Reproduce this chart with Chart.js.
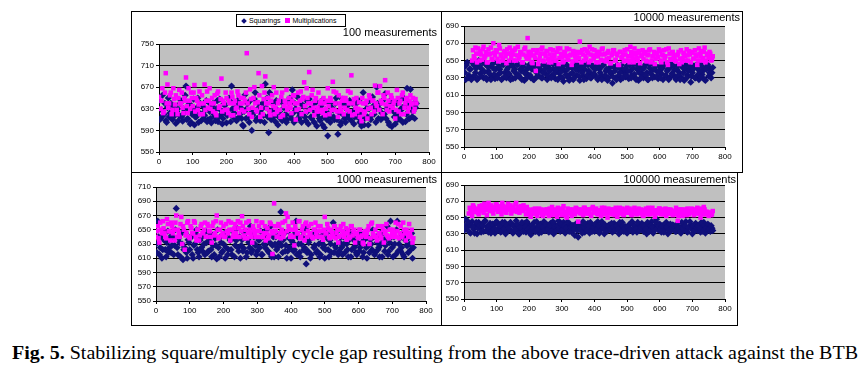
<!DOCTYPE html>
<html><head><meta charset="utf-8">
<script src="https://cdn.jsdelivr.net/npm/chart.js@4"></script>
<style>
html,body{margin:0;padding:0;background:#fff;width:868px;height:374px;overflow:hidden;position:relative;font-family:"Liberation Sans",Arial,sans-serif}
canvas{position:absolute}
.box{position:absolute;border:1px solid #000;box-sizing:border-box}
.ttl{position:absolute;font-size:11px;color:#000;text-align:right;white-space:nowrap}
#legend{position:absolute;left:236px;top:14px;width:110px;height:13px;border:1px solid #000;box-sizing:border-box;background:#fff;font-size:7px;line-height:11px;white-space:nowrap;padding-left:3px}
.dia{display:inline-block;width:4px;height:4px;background:#10107a;transform:rotate(45deg);margin:0 3px 0 2px;vertical-align:0px}
.sq{display:inline-block;width:5px;height:5px;background:#ff00ff;margin:0 3px 0 4px;vertical-align:0px}
#cap{position:absolute;left:12px;top:343px;font-family:"Liberation Serif","Times New Roman",serif;font-size:18px;white-space:nowrap;transform-origin:0 0;color:#000}
</style></head>
<body>
<div class="box" style="left:131px;top:11px;width:311px;height:162px"></div>
<div class="box" style="left:441px;top:11px;width:302px;height:162px"></div>
<div class="box" style="left:131px;top:172px;width:311px;height:154px"></div>
<div class="box" style="left:441px;top:172px;width:297px;height:154px"></div>
<canvas id="c1" width="310" height="161" style="left:131px;top:11px"></canvas>
<canvas id="c2" width="301" height="161" style="left:441px;top:11px"></canvas>
<canvas id="c3" width="310" height="153" style="left:131px;top:172px"></canvas>
<canvas id="c4" width="296" height="153" style="left:441px;top:172px"></canvas>
<div id="legend"><span class="dia"></span>Squarings<span class="sq"></span>Multiplications</div>
<div class="ttl" style="right:431px;top:26px">100 measurements</div>
<div class="ttl" style="right:128px;top:11px">10000 measurements</div>
<div class="ttl" style="right:431px;top:173px">1000 measurements</div>
<div class="ttl" style="right:132px;top:173px">100000 measurements</div>
<div id="cap"><b>Fig. 5.</b> Stabilizing square/multiply cycle gap resulting from the above trace-driven attack against the BTB</div>
<script>
// readings sampled every 5 measurements (A at 0,5,10..., B at 2.5,7.5,...)
const STEP = 5;
const seriesNames = ["Squarings", "Multiplications"];

const sq100 = [645,612,655,620,608,632,615,640,610,625,603,630,618,645,607,622,672,612,640,605,
628,600,615,650,622,608,635,618,645,610,625,604,640,616,630,606,648,620,612,636,
604,626,645,672,615,632,608,640,620,612,598,656,630,615,645,590,622,660,612,640,
608,630,618,676,650,586,625,612,640,606,628,615,645,608,632,620,610,642,618,665,
605,630,652,612,640,620,635,608,625,648,615,630,605,642,620,612,635,600,595,625,
580,640,615,628,610,650,583,622,605,640,612,630,618,645,608,625,615,640,620,605,
598,660,612,630,600,645,618,635,628,670,612,640,622,615,658,630,605,645,597,625,
602,640,618,610,632,650,606,668,612,666,615,640,632];
const sq100b = [610,628,618,640,605,650,622,612,635,618,625,608,640,615,630,655,610,628,602,620,
648,615,632,605,640,620,612,628,606,642,612,635,620,608,645,615,628,602,640,622,
618,650,606,630,622,610,645,615,632,600,625,612,640,605,628,618,648,608,630,615,
622,640,605,632,615,660,610,628,618,645,600,625,612,640,618,605,630,650,612,622,
640,610,625,618,605,635,615,645,602,630,612,640,622,598,630,608,645,615,628,610,
620,605,632,615,640,610,625,600,648,618,605,635,612,622,640,602,630,615,645,610,
622,600,640,615,630,610,652,620,605,640,630,610,645,620,612,635,600,628,640,615,
622,610,645,628,605,635,620,640,612,630,625,612,640];
const mu100 = [652,630,668,625,696,675,640,660,628,648,655,620,665,640,632,650,688,622,645,660,
635,674,650,628,662,640,620,675,645,632,668,640,625,655,618,662,635,686,645,628,
650,622,640,660,618,645,632,655,640,628,650,645,733,630,666,615,650,640,625,696,
615,672,648,690,630,640,618,655,670,632,625,645,615,660,635,640,628,650,632,645,
655,610,640,630,662,648,679,625,650,698,640,665,618,650,632,625,645,622,640,630,
668,620,645,680,628,660,615,640,625,650,632,645,663,625,692,640,620,650,630,615,
607,640,625,645,630,650,620,645,673,635,660,672,640,655,683,628,645,635,650,640,
612,665,625,645,655,620,640,650,632,655,640,625,648];
const mu100b = [630,645,622,660,640,632,655,620,668,638,628,650,640,660,622,645,635,668,630,650,
660,625,645,638,620,655,640,628,662,645,630,650,640,622,658,632,648,625,640,660,
628,645,618,652,640,630,662,622,650,640,625,660,640,620,648,632,670,628,642,655,
632,620,660,640,650,625,645,635,620,660,640,628,652,618,645,665,632,640,622,655,
640,628,660,645,620,652,635,668,640,628,655,632,645,625,660,640,628,650,618,645,
635,650,628,662,640,625,655,632,645,620,650,628,640,660,618,648,632,625,642,628,
650,620,640,612,655,632,645,625,640,660,628,645,620,650,638,660,625,655,632,645,
628,650,640,620,660,632,648,625,645,638,650,630,640];

const sq10000 = [642,628,648,633,640,630,645,636,628,650,635,640,630,646,628,638,644,632,641,629,
648,634,640,628,645,636,630,642,633,647,629,640,635,646,631,638,643,627,639,634,
645,630,641,628,637,644,632,639,630,646,635,628,642,648,633,640,629,645,636,631,
641,626,638,645,630,634,642,628,646,633,639,627,644,632,640,629,645,636,630,642,
634,646,628,640,633,644,630,638,627,641,635,624,642,630,645,633,628,640,636,631,
644,629,638,633,646,630,640,627,642,635,630,645,636,628,641,634,646,631,638,629,
643,635,628,645,632,640,630,646,634,639,628,644,636,631,642,627,645,633,640,625,
636,644,630,641,628,646,634,639,627,643,632,640,636];
const sq10000b = [636,645,630,640,628,647,633,641,629,644,632,648,637,630,643,635,628,646,634,640,
630,643,636,629,647,632,640,635,628,644,638,630,645,633,640,628,646,635,630,642,
633,640,628,645,631,638,643,630,636,640,644,632,638,630,646,635,640,628,643,637,
630,645,634,640,627,643,636,630,640,645,632,641,636,628,646,633,638,630,644,635,
640,630,643,636,628,645,633,640,630,637,644,631,638,628,642,636,645,630,640,633,
638,645,630,641,634,628,644,636,630,640,642,633,628,645,637,630,640,644,632,638,
630,641,645,633,638,628,642,635,644,630,640,633,628,645,636,641,630,638,643,632,
640,630,645,634,638,631,642,628,640,645,636,630,642];
const mu10000 = [null,null,null,null,null,650,655,665,648,658,661,651,666,655,648,663,658,652,670,656,
660,649,664,655,652,661,647,658,665,653,657,662,650,666,654,659,648,663,655,676,
652,660,647,656,638,662,651,658,665,649,655,661,648,663,653,657,650,660,646,664,
654,649,659,664,651,656,645,661,655,650,660,672,648,657,663,652,659,666,650,656,
662,648,655,660,651,664,657,649,659,653,647,658,662,651,656,645,660,654,649,657,
663,650,666,655,648,659,653,661,647,656,652,660,649,657,663,650,655,646,659,654,
661,648,656,652,663,645,658,651,660,654,649,657,646,662,653,658,650,656,661,648,
659,652,657,645,664,655,650,660,648,656,653,658,651];
const mu10000b = [null,null,null,null,null,662,652,658,664,650,657,663,653,660,648,657,665,651,659,662,
652,668,657,650,660,655,663,650,658,661,650,664,656,652,660,648,657,665,652,660,
656,648,662,653,659,646,655,663,650,658,661,652,657,648,662,655,650,664,653,658,
648,660,655,651,663,657,649,660,652,658,653,659,662,650,655,661,648,657,663,652,
655,660,648,657,663,650,658,652,661,647,656,662,650,658,645,660,653,657,662,650,
655,648,660,652,664,657,650,659,655,662,658,650,656,662,648,655,660,652,657,663,
650,657,662,655,648,664,652,659,656,650,656,660,652,648,659,655,663,650,657,660,
652,662,655,650,658,661,653,665,650,658,660,650,655];

const sq1000 = [630,662,615,640,622,635,612,648,625,618,640,628,680,615,632,645,608,625,618,636,
622,640,610,630,650,618,635,625,642,615,632,620,645,612,628,638,609,625,640,618,
630,610,645,622,635,615,640,628,652,620,610,636,624,645,618,632,655,622,640,628,
620,635,648,615,630,624,642,618,655,628,612,640,625,632,675,618,645,628,620,638,
610,632,622,662,640,618,630,648,625,602,620,636,615,645,628,618,640,612,632,625,
610,645,622,635,618,660,628,640,615,632,625,640,618,630,612,645,622,636,628,615,
640,625,632,618,645,610,628,636,622,640,618,632,625,645,612,635,628,655,620,662,
625,640,615,662,630,620,645,612,635,628,640,622,610];
const sq1000b = [618,640,625,610,648,622,632,618,640,628,615,650,625,638,612,630,622,645,610,632,
640,615,628,645,622,612,638,620,630,648,618,635,622,642,615,628,650,612,632,620,
645,625,615,638,622,648,612,635,625,640,628,620,645,612,636,625,618,642,630,615,
638,625,615,640,628,650,620,632,612,640,630,622,612,645,628,636,620,610,648,625,
635,620,645,615,630,612,640,622,652,618,632,610,640,625,645,620,630,615,642,628,
622,638,612,630,645,618,625,648,620,640,615,630,645,622,636,612,640,625,618,632,
620,645,612,636,625,640,618,630,650,615,640,622,612,630,645,620,638,615,632,640,
612,630,650,620,638,625,615,640,628,618,630,645,625];
const mu1000 = [640,655,632,650,662,645,638,658,648,660,645,635,670,650,640,668,655,622,646,662,
638,652,645,660,635,650,642,658,646,660,640,655,648,632,660,645,670,638,650,642,
655,640,648,662,635,650,645,658,640,652,660,669,642,650,638,662,645,632,650,640,
648,655,640,660,645,635,652,642,658,616,687,648,640,655,638,660,645,673,668,650,
642,660,628,650,645,662,640,655,635,660,648,642,658,638,650,645,655,640,648,636,
668,645,652,638,648,640,655,645,632,650,642,658,645,636,650,640,655,648,632,645,
638,650,642,630,648,645,655,638,660,642,650,635,645,640,655,632,648,642,638,650,
645,640,660,648,638,655,642,650,635,645,658,640,632];
const mu1000b = [648,638,660,645,652,640,665,648,635,655,650,660,640,645,658,630,650,642,660,640,
655,645,662,640,650,635,655,645,650,640,658,648,640,655,642,662,650,640,660,645,
640,658,645,650,660,640,652,645,662,640,648,655,638,660,645,650,640,655,645,662,
640,648,660,640,655,645,638,660,648,645,655,640,658,645,650,640,662,648,655,640,
650,640,655,645,662,638,650,645,658,640,655,645,640,650,660,640,648,655,640,650,
645,658,640,650,645,655,638,650,640,655,648,640,652,645,638,655,642,650,645,640,
650,640,632,645,640,650,630,658,645,640,640,655,645,638,650,645,658,640,650,640,
650,645,640,658,645,640,660,645,650,640,645,650,638];

const sq100000 = [634,648,638,642,631,645,636,640,630,644,637,641,633,646,639,632,643,635,640,631,
645,636,641,633,638,644,632,640,635,642,631,639,646,634,630,640,637,643,632,638,
641,629,636,644,633,639,631,642,636,645,634,640,632,643,637,630,641,635,646,633,
638,644,631,639,635,642,632,640,628,637,626,641,634,645,632,638,643,631,637,640,
633,639,645,631,636,642,630,638,634,641,637,632,643,635,640,630,638,644,633,639,
631,641,636,645,634,638,632,640,636,643,633,639,630,642,637,645,631,640,648,635,
642,632,638,636,644,630,639,634,641,637,633,643,636,631,640,635,645,632,638,641,
630,637,643,634,640,632,638,644,631,636,640,633,637];
const sq100000b = [640,636,645,632,640,638,631,644,637,640,632,640,645,634,638,640,631,642,636,644,
635,640,632,644,636,630,641,637,644,633,640,635,642,630,638,644,633,639,645,636,
632,640,637,633,645,636,640,632,638,634,642,636,640,633,645,639,634,640,637,642,
635,640,637,645,633,638,640,636,642,634,640,636,631,639,642,635,640,644,633,638,
642,636,640,634,645,637,641,633,640,636,643,638,634,640,636,644,633,640,637,632,
638,635,643,632,640,636,644,634,638,640,640,636,644,633,640,638,634,645,637,640,
636,640,632,643,638,634,642,637,640,633,640,637,632,644,636,640,633,638,645,636,
640,634,638,640,636,644,633,640,637,642,636,640,634];
const mu100000 = [null,null,null,655,660,652,663,657,661,654,659,665,656,662,653,668,658,663,655,660,
666,657,661,654,664,659,656,667,660,655,663,658,668,661,656,664,659,662,654,660,
657,651,660,655,658,652,661,656,653,659,655,660,652,657,663,654,658,651,656,661,
653,664,657,650,655,660,652,658,654,661,645,656,660,653,662,657,655,660,652,663,
656,661,654,659,652,657,662,655,650,658,660,654,657,662,651,658,655,661,653,657,
662,656,659,653,660,657,654,661,655,658,652,659,656,662,654,660,657,651,659,655,
661,654,658,656,652,660,655,659,653,657,662,646,656,660,652,658,655,661,654,657,
660,653,658,662,655,650,659,663,654,657,652,656,654];
const mu100000b = [null,null,null,662,657,665,658,660,656,664,662,658,667,659,664,660,665,658,662,666,
660,664,658,668,662,657,663,660,665,658,660,666,657,663,661,658,665,660,663,657,
653,659,655,661,654,658,656,660,652,657,660,656,661,653,658,660,654,662,657,655,
660,655,652,661,658,656,660,655,662,657,660,655,657,662,655,660,658,654,661,657,
660,655,658,656,662,654,659,657,661,655,656,660,653,659,656,662,657,654,660,656,
658,661,654,657,662,655,659,656,660,653,657,661,654,659,657,662,655,658,656,661,
656,660,654,661,657,655,660,656,658,654,658,652,660,655,657,660,653,658,656,661,
657,660,655,658,661,656,654,660,657,655,656,653,658];

const xTicks = [0,100,200,300,400,500,600,700,800];

function toPts(a, b){
  const out=[];
  a.forEach((v,i)=>{ if(v!==null) out.push({x:i*STEP,y:v}); });
  b.forEach((v,i)=>{ if(v!==null) out.push({x:i*STEP+STEP/2,y:v}); });
  return out;
}

const bgPlugin = {
  id:'plotbg',
  beforeDraw(chart){
    const a=chart.chartArea, c=chart.ctx;
    c.save(); c.fillStyle='#c0c0c0'; c.fillRect(a.left,a.top,a.right-a.left,a.bottom-a.top); c.restore();
  }
};

function makeChart(id, sq, mu, yMin, yMax, lay){
  const ctx=document.getElementById(id);
  new Chart(ctx,{
    type:'scatter',
    data:{datasets:[
      {label:seriesNames[0],data:sq,order:2,pointStyle:'rectRot',pointRadius:3.6,pointBorderWidth:0,backgroundColor:'#10107a',borderColor:'#10107a'},
      {label:seriesNames[1],data:mu,order:1,pointStyle:'rect',pointRadius:3.2,pointBorderWidth:0,backgroundColor:'#ff00ff',borderColor:'#ff00ff'}
    ]},
    options:{
      responsive:false,animation:false,devicePixelRatio:1,
      layout:{padding:{left:0,top:lay.top,right:lay.right,bottom:0}},
      plugins:{legend:{display:false},tooltip:{enabled:false}},
      scales:{
        x:{type:'linear',min:0,max:800,
          afterBuildTicks(s){s.ticks=xTicks.map(v=>({value:v}));},
          afterFit(s){s.height=lay.bottom;},
          grid:{drawOnChartArea:false,drawTicks:true,tickLength:3,color:'#000',lineWidth:1},
          border:{color:'#000',width:1},
          ticks:{color:'#000',font:{family:'"Liberation Sans", Arial, sans-serif',size:8},padding:2,maxRotation:0,autoSkip:false}
        },
        y:{type:'linear',min:yMin,max:yMax,
          ticks:{stepSize:20,color:'#000',font:{family:'"Liberation Sans", Arial, sans-serif',size:8},padding:2},
          afterFit(s){s.width=lay.left;},
          grid:{color:'#000',lineWidth:1,drawTicks:true,tickLength:3},
          border:{color:'#000',width:1}
        }
      }
    },
    plugins:[bgPlugin]
  });
}

makeChart('c1', toPts(sq100,sq100b), toPts(mu100,mu100b), 550, 750, {left:28, top:33, right:12, bottom:20});
makeChart('c2', toPts(sq10000,sq10000b), toPts(mu10000,mu10000b), 550, 690, {left:23, top:15, right:17, bottom:25});
makeChart('c3', toPts(sq1000,sq1000b), toPts(mu1000,mu1000b), 550, 710, {left:25, top:15, right:15, bottom:24});
makeChart('c4', toPts(sq100000,sq100000b), toPts(mu100000,mu100000b), 550, 690, {left:23, top:13, right:12, bottom:26});

const cap=document.getElementById('cap');
const w=cap.getBoundingClientRect().width;
cap.style.transform='scaleX('+(846/w)+')';
</script>
</body></html>
